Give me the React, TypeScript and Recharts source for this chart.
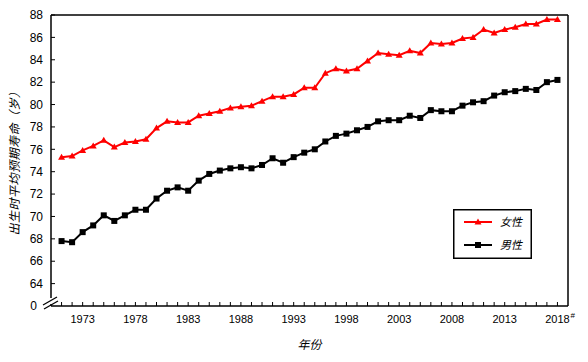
import React from "react";
import {
  LineChart,
  Line,
  XAxis,
  YAxis,
  ReferenceLine,
  Legend,
} from "recharts";

const years = [
  1971, 1972, 1973, 1974, 1975, 1976, 1977, 1978, 1979, 1980,
  1981, 1982, 1983, 1984, 1985, 1986, 1987, 1988, 1989, 1990,
  1991, 1992, 1993, 1994, 1995, 1996, 1997, 1998, 1999, 2000,
  2001, 2002, 2003, 2004, 2005, 2006, 2007, 2008, 2009, 2010,
  2011, 2012, 2013, 2014, 2015, 2016, 2017, 2018,
];

const female = [
  75.3, 75.4, 75.9, 76.3, 76.8, 76.2, 76.6, 76.7, 76.9, 77.9,
  78.5, 78.4, 78.4, 79.0, 79.2, 79.4, 79.7, 79.8, 79.9, 80.3,
  80.7, 80.7, 80.9, 81.5, 81.5, 82.8, 83.2, 83.0, 83.2, 83.9,
  84.6, 84.5, 84.4, 84.8, 84.6, 85.5, 85.4, 85.5, 85.9, 86.0,
  86.7, 86.4, 86.7, 86.9, 87.2, 87.2, 87.6, 87.6,
];

const male = [
  67.8, 67.7, 68.6, 69.2, 70.1, 69.6, 70.1, 70.6, 70.6, 71.6,
  72.3, 72.6, 72.3, 73.2, 73.8, 74.1, 74.3, 74.4, 74.3, 74.6,
  75.2, 74.8, 75.3, 75.7, 76.0, 76.7, 77.2, 77.4, 77.7, 78.0,
  78.5, 78.6, 78.6, 79.0, 78.8, 79.5, 79.4, 79.4, 79.9, 80.2,
  80.3, 80.8, 81.1, 81.2, 81.4, 81.3, 82.0, 82.2,
];

// 62 sits where the broken axis shows "0"
const yTicks = [62, 64, 66, 68, 70, 72, 74, 76, 78, 80, 82, 84, 86, 88];

const data = years.map((year, i) => ({ year, female: female[i], male: male[i] }));

const NUM_FONT = "'Liberation Sans', Arial, sans-serif";
const CJK_FONT = "'Noto Sans CJK SC', sans-serif";

function XTick(props: any) {
  const { x, y, payload } = props;
  const yr = payload.value;
  const labeled = (yr - 1973) % 5 === 0;
  return (
    <g>
      <line x1={x} x2={x} y1={y} y2={y - 4} stroke="#000" strokeWidth={1} />
      {labeled && (
        <text x={x} y={y + 17} textAnchor="middle" fontSize={11} fontFamily={NUM_FONT} fill="#000">
          {yr}
        </text>
      )}
      {yr === 2018 && (
        <text x={x + 13} y={y + 12} fontSize={8} fontFamily={NUM_FONT} fill="#000">
          #
        </text>
      )}
    </g>
  );
}

function YTick(props: any) {
  const { x, y, payload } = props;
  const v = payload.value;
  if (v === 62) {
    return (
      <text x={x - 14} y={y} dy="0.35em" textAnchor="end" fontSize={12} fontFamily={NUM_FONT} fill="#000">
        0
      </text>
    );
  }
  return (
    <g>
      <line x1={x} x2={x + 4} y1={y} y2={y} stroke="#000" strokeWidth={1} />
      <text x={x - 8} y={y} dy="0.35em" textAnchor="end" fontSize={12} fontFamily={NUM_FONT} fill="#000">
        {v}
      </text>
    </g>
  );
}

const TriDot = (p: any) => (
  <polygon
    key={`f-${p.index}`}
    points={`${p.cx - 3.5},${p.cy + 2.5} ${p.cx + 3.5},${p.cy + 2.5} ${p.cx},${p.cy - 3.5}`}
    fill="#ff0000"
  />
);

const SqDot = (p: any) => (
  <rect key={`m-${p.index}`} x={p.cx - 3} y={p.cy - 3} width={6} height={6} fill="#000" />
);

const renderLegend = () => (
  <svg width={79} height={50} style={{ display: "block" }}>
    <rect x={0.75} y={0.75} width={77.5} height={48.5} fill="#fff" stroke="#000" strokeWidth={1.5} />
    <line x1={11} x2={39} y1={13} y2={13} stroke="#ff0000" strokeWidth={2} />
    <polygon points="21.5,15.5 28.5,15.5 25,9.5" fill="#ff0000" />
    <text x={47} y={17} fontSize={11} fontStyle="italic" fontFamily={CJK_FONT} fill="#000">
      女性
    </text>
    <line x1={11} x2={39} y1={36} y2={36} stroke="#000" strokeWidth={2} />
    <rect x={22} y={33} width={6} height={6} fill="#000" />
    <text x={47} y={40} fontSize={11} fontStyle="italic" fontFamily={CJK_FONT} fill="#000">
      男性
    </text>
  </svg>
);

export default function App() {
  return (
    <div style={{ position: "relative", width: 588, height: 362, margin: -8, background: "#fff" }}>
      <LineChart width={588} height={362} data={data} margin={{ top: 15, right: 20, left: 0, bottom: 0 }}>
        <XAxis
          dataKey="year"
          type="number"
          domain={[1970, 2019]}
          ticks={years}
          interval={0}
          tickSize={0}
          tickMargin={0}
          tick={XTick}
          height={56}
          axisLine={{ stroke: "#000", strokeWidth: 1.5 }}
          label={{
            value: "年份",
            position: "insideBottom",
            offset: 13,
            fontSize: 12,
            fontStyle: "italic",
            fontFamily: CJK_FONT,
            fill: "#000",
          }}
        />
        <YAxis
          domain={[62, 88]}
          ticks={yTicks}
          interval={0}
          width={51}
          tickSize={0}
          tickMargin={0}
          tick={YTick}
          axisLine={{ stroke: "#000", strokeWidth: 1.5 }}
          label={{
            value: "出生时平均预期寿命（岁）",
            angle: -90,
            position: "insideLeft",
            offset: 15,
            fontSize: 12,
            fontStyle: "italic",
            fontFamily: CJK_FONT,
            fill: "#000",
            style: { textAnchor: "middle", letterSpacing: 0.5 },
          }}
        />
        <ReferenceLine y={88} stroke="#000" strokeWidth={1.5} />
        <ReferenceLine x={2019} stroke="#000" strokeWidth={1.5} />
        <Line
          dataKey="female"
          stroke="#ff0000"
          strokeWidth={2}
          dot={TriDot}
          isAnimationActive={false}
        />
        <Line
          dataKey="male"
          stroke="#000"
          strokeWidth={2}
          dot={SqDot}
          isAnimationActive={false}
        />
        <Legend
          layout="horizontal"
          verticalAlign="middle"
          align="center"
          content={renderLegend}
          wrapperStyle={{ position: "absolute", left: 453, top: 209, width: 79, height: 50 }}
        />
      </LineChart>
      {/* axis break marks */}
      <svg width={588} height={362} style={{ position: "absolute", left: 0, top: 0, pointerEvents: "none" }}>
        <rect x={48} y={298} width={6} height={6} fill="#fff" />
        <line x1={43} y1={305} x2={57} y2={297} stroke="#000" strokeWidth={1.2} />
        <line x1={44} y1={309} x2={58} y2={301} stroke="#000" strokeWidth={1.2} />
      </svg>
    </div>
  );
}
